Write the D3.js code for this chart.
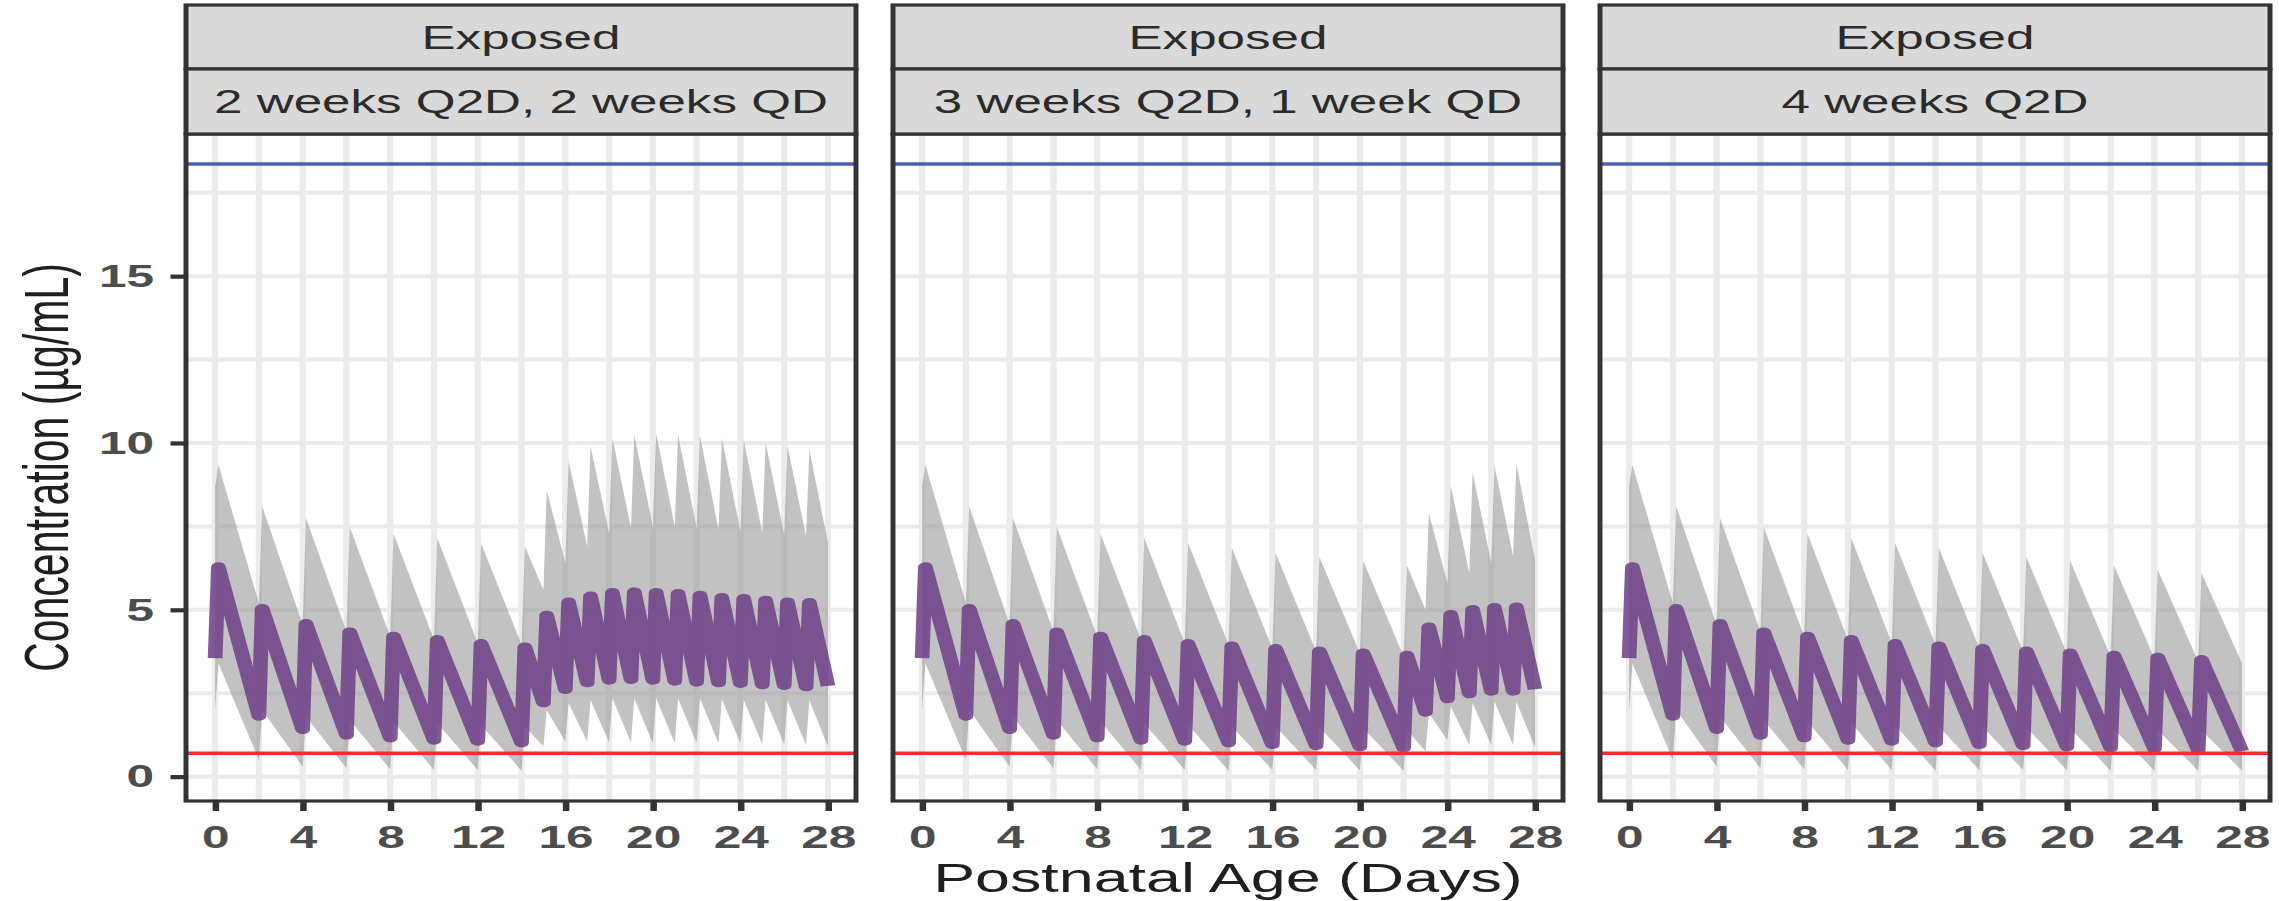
<!DOCTYPE html>
<html>
<head>
<meta charset="utf-8">
<script src="https://cdn.jsdelivr.net/npm/d3@7"></script>
<style>
  html, body { margin: 0; padding: 0; background: #ffffff; }
  svg { display: block; }
</style>
</head>
<body>
<svg id="chart"></svg>
<script>
// ---------------- DATA ----------------
const stripTop = ["Exposed", "Exposed", "Exposed"];
const regimens = ["2 weeks Q2D, 2 weeks QD", "3 weeks Q2D, 1 week QD", "4 weeks Q2D"];
const xTickValues = [0, 4, 8, 12, 16, 20, 24, 28];
const yTickValues = [0, 5, 10, 15];
const xGridValues = [0, 2, 4, 6, 8, 10, 12, 14, 16, 18, 20, 22, 24, 26, 28];
const yGridValues = [0, 2.5, 5, 7.5, 10, 12.5, 15, 17.5];
const upperLimit = 18.36;   // blue reference line
const lowerLimit = 0.7;     // red reference line
const endDay = 28;
const peakOffset = 0.15;    // days from dose to peak
const startMed = 3.55, startLo = 2.0, startHi = 8.7;

// Panel 1: 2 weeks Q2D, 2 weeks QD
const dose1 = [0, 2, 4, 6, 8, 10, 12, 14, 15, 16, 17, 18, 19, 20, 21, 22, 23, 24, 25, 26, 27];
const medPeak1 = [6.28, 5.03, 4.58, 4.33, 4.2, 4.1, 3.98, 3.88, 4.83, 5.23, 5.41, 5.51, 5.53, 5.51, 5.48, 5.43, 5.36, 5.33, 5.28, 5.23, 5.21];
const medTrough1 = [1.82, 1.42, 1.25, 1.17, 1.1, 1.07, 1.02, 2.22, 2.62, 2.82, 2.9, 2.92, 2.9, 2.87, 2.84, 2.82, 2.8, 2.76, 2.74, 2.7, 2.72];
const hiPeak1 = [9.35, 8.1, 7.75, 7.48, 7.28, 7.15, 7.0, 6.9, 8.58, 9.45, 9.9, 10.15, 10.25, 10.28, 10.25, 10.22, 10.15, 10.1, 10.02, 9.92, 9.8];
const hiTrough1 = [5.2, 4.55, 4.35, 4.2, 4.1, 4.0, 3.95, 5.6, 6.4, 6.9, 7.3, 7.45, 7.5, 7.5, 7.45, 7.4, 7.35, 7.3, 7.25, 7.2, 7.0];
const loPeak1 = [3.4, 2.0, 1.8, 1.7, 1.65, 1.6, 1.55, 1.5, 2.0, 2.2, 2.3, 2.35, 2.35, 2.35, 2.35, 2.35, 2.32, 2.3, 2.3, 2.28, 2.28];
const loTrough1 = [0.5, 0.3, 0.25, 0.22, 0.2, 0.2, 0.18, 0.9, 1.05, 1.05, 1.03, 1.02, 1.0, 1.0, 1.0, 1.0, 1.0, 0.98, 0.97, 0.95, 0.9];

// Panel 2: 3 weeks Q2D, 1 week QD
const dose2 = [0, 2, 4, 6, 8, 10, 12, 14, 16, 18, 20, 22, 23, 24, 25, 26, 27];
const medPeak2 = [6.28, 5.03, 4.58, 4.33, 4.2, 4.1, 3.98, 3.91, 3.83, 3.76, 3.7, 3.63, 4.48, 4.85, 5.0, 5.06, 5.08];
const medTrough2 = [1.82, 1.42, 1.25, 1.17, 1.1, 1.07, 1.02, 0.97, 0.94, 0.9, 0.87, 1.94, 2.34, 2.49, 2.57, 2.57, 2.62];
const hiPeak2 = [9.35, 8.1, 7.75, 7.48, 7.28, 7.15, 7.0, 6.85, 6.7, 6.58, 6.47, 6.33, 7.9, 8.72, 9.12, 9.32, 9.38];
const hiTrough2 = [5.2, 4.55, 4.35, 4.2, 4.1, 4.0, 3.95, 3.85, 3.75, 3.7, 3.6, 5.0, 5.8, 6.1, 6.4, 6.6, 6.5];
const loPeak2 = [3.4, 2.0, 1.8, 1.7, 1.65, 1.6, 1.55, 1.5, 1.5, 1.48, 1.45, 1.42, 1.9, 2.1, 2.2, 2.25, 2.25];
const loTrough2 = [0.5, 0.3, 0.25, 0.22, 0.2, 0.2, 0.18, 0.2, 0.2, 0.19, 0.18, 0.75, 1.1, 0.95, 0.95, 0.95, 0.88];

// Panel 3: 4 weeks Q2D
const dose3 = [0, 2, 4, 6, 8, 10, 12, 14, 16, 18, 20, 22, 24, 26];
const medPeak3 = [6.28, 5.03, 4.58, 4.33, 4.2, 4.1, 3.98, 3.91, 3.83, 3.76, 3.7, 3.63, 3.57, 3.5];
const medTrough3 = [1.82, 1.42, 1.25, 1.17, 1.1, 1.07, 1.02, 0.97, 0.94, 0.9, 0.87, 0.84, 0.8, 0.76];
const hiPeak3 = [9.35, 8.1, 7.75, 7.48, 7.28, 7.15, 7.0, 6.85, 6.7, 6.58, 6.47, 6.33, 6.2, 6.1];
const hiTrough3 = [5.2, 4.55, 4.35, 4.2, 4.1, 4.0, 3.95, 3.85, 3.75, 3.7, 3.6, 3.55, 3.45, 3.4];
const loPeak3 = [3.4, 2.0, 1.8, 1.7, 1.65, 1.6, 1.55, 1.5, 1.5, 1.48, 1.45, 1.42, 1.4, 1.38];
const loTrough3 = [0.5, 0.3, 0.25, 0.22, 0.2, 0.2, 0.18, 0.2, 0.2, 0.19, 0.18, 0.18, 0.18, 0.18];

// ---------------- LAYOUT ----------------
const W = 2279, H = 901;
const K = 1.55;               // horizontal stretch of the original figure
const VW = W / K;
const panelLeftFull = [186, 893, 1600];
const panelWidthFull = 670;
const panelTop = 134, panelBottom = 801;
const strip1Top = 5, strip2Top = 69;
const FONT = "'Liberation Sans', Arial, Helvetica, sans-serif";

const panels = [
  {top: stripTop[0], label: regimens[0], dose: dose1, medPeak: medPeak1, medTrough: medTrough1, hiPeak: hiPeak1, hiTrough: hiTrough1, loPeak: loPeak1, loTrough: loTrough1},
  {top: stripTop[1], label: regimens[1], dose: dose2, medPeak: medPeak2, medTrough: medTrough2, hiPeak: hiPeak2, hiTrough: hiTrough2, loPeak: loPeak2, loTrough: loTrough2},
  {top: stripTop[2], label: regimens[2], dose: dose3, medPeak: medPeak3, medTrough: medTrough3, hiPeak: hiPeak3, hiTrough: hiTrough3, loPeak: loPeak3, loTrough: loTrough3}
];

function buildSeries(p) {
  const pts = [{t: 0, med: startMed, lo: startLo, hi: startHi}];
  p.dose.forEach((t, i) => {
    const next = i < p.dose.length - 1 ? p.dose[i + 1] : endDay;
    pts.push({t: t + peakOffset, med: p.medPeak[i], lo: p.loPeak[i], hi: p.hiPeak[i]});
    pts.push({t: next, med: p.medTrough[i], lo: p.loTrough[i], hi: p.hiTrough[i]});
  });
  return pts;
}

const svg = d3.select("#chart")
  .attr("width", W).attr("height", H)
  .attr("viewBox", `0 0 ${VW} ${H}`)
  .attr("preserveAspectRatio", "none");

svg.append("rect").attr("x", 0).attr("y", 0).attr("width", VW).attr("height", H).attr("fill", "#ffffff");

const defs = svg.append("defs");

const y = d3.scaleLinear().domain([-0.73, 19.26]).range([panelBottom, panelTop]);

panels.forEach((p, i) => {
  const x0 = panelLeftFull[i] / K;
  const x1 = (panelLeftFull[i] + panelWidthFull) / K;
  const x = d3.scaleLinear().domain([-1.33, 29.28]).range([x0, x1]);
  const g = svg.append("g");

  defs.append("clipPath").attr("id", "clip" + i)
    .append("rect").attr("x", x0).attr("y", panelTop).attr("width", x1 - x0).attr("height", panelBottom - panelTop);

  g.append("rect").attr("x", x0).attr("y", panelTop).attr("width", x1 - x0).attr("height", panelBottom - panelTop).attr("fill", "#ffffff");

  const cg = g.append("g").attr("clip-path", `url(#clip${i})`);

  // grid
  cg.selectAll(".gx").data(xGridValues).enter().append("line")
    .attr("x1", d => x(d)).attr("x2", d => x(d))
    .attr("y1", panelTop).attr("y2", panelBottom)
    .attr("stroke", "#ebebeb").attr("stroke-width", 4);
  cg.selectAll(".gy").data(yGridValues).enter().append("line")
    .attr("x1", x0).attr("x2", x1)
    .attr("y1", d => y(d)).attr("y2", d => y(d))
    .attr("stroke", "#ebebeb").attr("stroke-width", 4);

  const series = buildSeries(p);

  // 90% band
  const area = d3.area().x(d => x(d.t)).y0(d => y(d.lo)).y1(d => y(d.hi));
  cg.append("path").datum(series).attr("d", area)
    .attr("fill", "#999999").attr("fill-opacity", 0.6);

  // blue upper reference
  cg.append("line").attr("x1", x0).attr("x2", x1)
    .attr("y1", y(upperLimit)).attr("y2", y(upperLimit))
    .attr("stroke", "#4a5fb0").attr("stroke-width", 3.6);

  // median line
  const line = d3.line().x(d => x(d.t)).y(d => y(d.med));
  cg.append("path").datum(series).attr("d", line)
    .attr("fill", "none").attr("stroke", "#6e4287").attr("stroke-opacity", 0.87)
    .attr("stroke-width", 9.5).attr("stroke-linejoin", "round").attr("stroke-linecap", "butt");

  // red lower reference
  cg.append("line").attr("x1", x0).attr("x2", x1)
    .attr("y1", y(lowerLimit)).attr("y2", y(lowerLimit))
    .attr("stroke", "#f0302f").attr("stroke-width", 3.6);

  // panel border
  g.append("rect").attr("x", x0).attr("y", panelTop).attr("width", x1 - x0).attr("height", panelBottom - panelTop)
    .attr("fill", "none").attr("stroke", "#333333").attr("stroke-width", 3.2);

  // strips
  [[strip1Top, strip2Top, p.top], [strip2Top, panelTop, p.label]].forEach(([t, b, txt]) => {
    g.append("rect").attr("x", x0).attr("y", t).attr("width", x1 - x0).attr("height", b - t)
      .attr("fill", "#d9d9d9").attr("stroke", "#333333").attr("stroke-width", 3.2);
    g.append("text").attr("x", (x0 + x1) / 2).attr("y", (t + b) / 2)
      .attr("dy", "0.36em").attr("text-anchor", "middle")
      .attr("font-family", FONT).attr("font-size", 33).attr("fill", "#2b2b2b")
      .text(txt);
  });

  // x axis
  const xa = g.append("g").attr("transform", `translate(0,${panelBottom})`)
    .call(d3.axisBottom(x).tickValues(xTickValues).tickSize(10).tickPadding(14).tickFormat(d3.format("d")));
  xa.select(".domain").remove();
  xa.selectAll(".tick line").attr("stroke", "#333333").attr("stroke-width", 4.2);
  xa.selectAll(".tick text").attr("font-family", FONT).attr("font-size", 32).attr("font-weight", "bold").attr("fill", "#4d4d4d");

  if (i === 0) {
    const ya = g.append("g").attr("transform", `translate(${x0},0)`)
      .call(d3.axisLeft(y).tickValues(yTickValues).tickSize(10).tickPadding(10.6).tickFormat(d3.format("d")));
    ya.select(".domain").remove();
    ya.selectAll(".tick line").attr("stroke", "#333333").attr("stroke-width", 4.2);
    ya.selectAll(".tick text").attr("font-family", FONT).attr("font-size", 32).attr("font-weight", "bold").attr("fill", "#4d4d4d");
  }
});

// axis titles
svg.append("text")
  .attr("x", ((panelLeftFull[0] + panelLeftFull[2] + panelWidthFull) / 2) / K)
  .attr("y", 892)
  .attr("text-anchor", "middle")
  .attr("font-family", FONT).attr("font-size", 40.5).attr("fill", "#1f1f1f")
  .text("Postnatal Age (Days)");

svg.append("text")
  .attr("transform", `translate(${68 / K},${(panelTop + panelBottom) / 2}) rotate(-90)`)
  .attr("text-anchor", "middle")
  .attr("font-family", FONT).attr("font-size", 41).attr("fill", "#1f1f1f")
  .text("Concentration (µg/mL)");
</script>
</body>
</html>
